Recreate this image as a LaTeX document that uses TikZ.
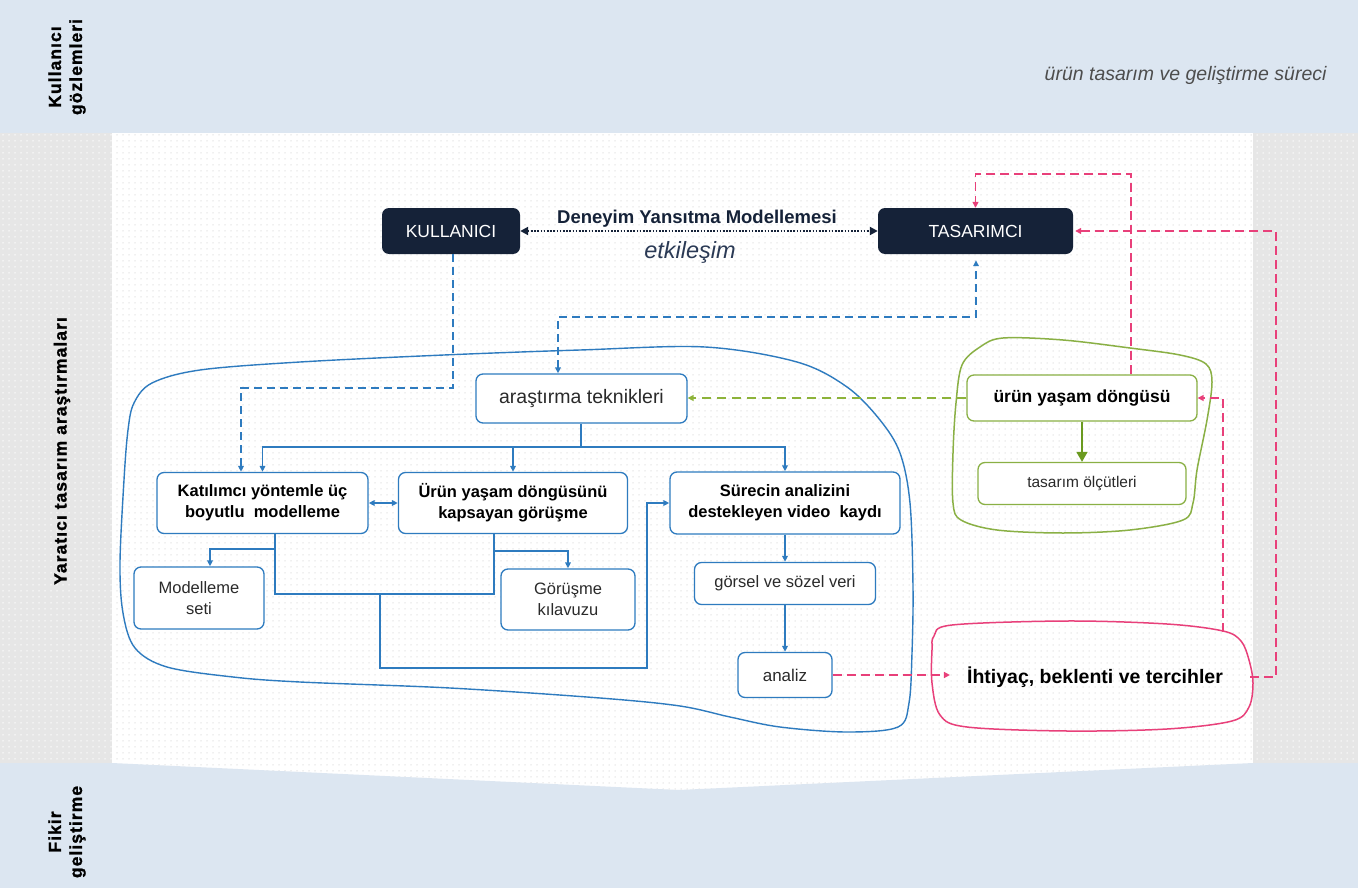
\documentclass[tikz,border=0pt]{standalone}
\usepackage{fontspec}
\setmainfont{Liberation Sans}
\usetikzlibrary{arrows.meta,patterns}
\definecolor{navy}{HTML}{152238}
\definecolor{bblue}{HTML}{2E7BBF}
\definecolor{gborder}{HTML}{8AB045}
\definecolor{garrow}{HTML}{6A9A1F}
\definecolor{gdashc}{HTML}{8DB33A}
\definecolor{pinkc}{HTML}{E8407A}
\definecolor{bandc}{HTML}{DCE6F1}
\definecolor{sidec}{HTML}{E6E6E6}
\definecolor{dotc}{HTML}{E2E2E2}
\definecolor{txt}{HTML}{2A2A2A}
\definecolor{etkc}{HTML}{2B3A55}
\definecolor{procc}{HTML}{4D4D4D}
\pgfdeclarepatternformonly{bgdots}{\pgfqpoint{-1pt}{-1pt}}{\pgfqpoint{7pt}{7pt}}{\pgfqpoint{6pt}{6pt}}{\pgfpathcircle{\pgfqpoint{3pt}{3pt}}{0.75pt}\pgfusepath{fill}}
\tikzset{
  bx/.style={draw=bblue, line width=1.3pt, rounded corners=7pt, fill=white, align=center, inner sep=1pt, text=txt},
  gbx/.style={bx, draw=gborder},
  navybox/.style={fill=navy, rounded corners=7pt, text=white, align=center, inner sep=1pt, font=\fontsize{17.5}{20}\selectfont},
  fb/.style={font=\fontsize{16.5}{21}\selectfont\bfseries, text=black},
  fr/.style={font=\fontsize{16.5}{21}\selectfont},
  sidelabel/.style={rotate=90, align=center, text=black, font=\fontsize{17.5}{21}\selectfont\bfseries\addfontfeature{LetterSpace=6,FakeBold=1.2}},
  bline/.style={draw=bblue, line width=1.5pt},
  barr/.style={bline, -{Triangle[length=6pt,width=5.5pt]}},
  bdarr/.style={bline, {Triangle[length=6pt,width=5.5pt]}-{Triangle[length=6pt,width=5.5pt]}},
  bdash/.style={bline, dash pattern=on 8pt off 5pt},
  pdash/.style={draw=pinkc, line width=1.5pt, dash pattern=on 9pt off 5pt, -{Triangle[length=6pt,width=6pt]}},
  gdash/.style={draw=gdashc, line width=1.6pt, dash pattern=on 9pt off 6pt, -{Triangle[length=6pt,width=6pt]}},
}
\begin{document}
\begin{tikzpicture}[x=1pt,y=-1pt]
\useasboundingbox (0,0) rectangle (1358,888);
% background
\fill[white] (0,0) rectangle (1358,888);
\fill[pattern=bgdots, pattern color=dotc] (0,0) rectangle (1358,888);
\fill[sidec] (0,133) rectangle (112,763);
\fill[pattern=bgdots, pattern color=white] (0,133) rectangle (112,763);
\fill[sidec] (1253,133) rectangle (1358,763);
\fill[pattern=bgdots, pattern color=white] (1253,133) rectangle (1358,763);
\fill[bandc] (0,0) rectangle (1358,133);
\fill[bandc] (0,763) -- (112,763) -- (679,790) -- (1253,763) -- (1358,763) -- (1358,888) -- (0,888) -- cycle;
% side labels
\node[sidelabel] (lab1) at (67,67) {Kullanıcı\\gözlemleri};
\node[sidelabel] (lab2) at (62,451) {Yaratıcı tasarım araştırmaları};
\node[sidelabel] (lab3) at (67,832) {Fikir\\geliştirme};
\node[font=\fontsize{19.5}{24}\selectfont\itshape, text=procc, anchor=east] (proc) at (1330,75) {ürün tasarım ve geliştirme süreci};
% blobs
\draw[bblue, line width=1.4pt] plot[smooth cycle, tension=0.55] coordinates {
 (300,362) (444,355) (580,350) (705,347) (797,362) (847,387) (880,420) (900,453) (910,503) (913,587) (912,653) (909,703) (898,727) (847,732) (780,727) (730,717) (680,706) (600,698) (450,688) (300,682) (233,677) (167,667) (135,648) (123,613) (120,563) (124,480) (128,430) (134,403) (152,383) (200,370)};
\draw[gborder, line width=1.5pt] plot[smooth cycle, tension=0.55] coordinates {
 (962,365) (980,347) (1003,338) (1063,340) (1130,348) (1180,355) (1206,364) (1212,382) (1207,420) (1197,470) (1193,503) (1183,520) (1130,530) (1063,533) (997,530) (961,520) (953,503) (953,453) (956,403)};
\draw[pinkc, line width=1.5pt] plot[smooth cycle, tension=0.55] coordinates {
 (934,636) (952,625) (1067,621) (1167,624) (1223,631) (1241,641) (1249,660) (1253,683) (1249,707) (1232,721) (1167,729) (1067,731) (967,727) (940,715) (932,683) (932,650)};
% nodes
\node[navybox, minimum width=138pt, minimum height=46pt] (kul) at (451,231) {KULLANICI};
\node[navybox, minimum width=195pt, minimum height=46pt] (tas) at (975.5,231) {TASARIMCI};
\node[font=\fontsize{18.5}{22}\selectfont\bfseries, text=navy] (dym) at (697,219) {Deneyim Yansıtma Modellemesi};
\node[font=\fontsize{23.5}{28}\selectfont\itshape, text=etkc] (etk) at (690,252) {etkileşim};
\node[bx, font=\fontsize{19.5}{22}\selectfont, minimum width=211pt, minimum height=49pt] (arast) at (581.5,398.5) {araştırma teknikleri};
\node[bx, fb, minimum width=211pt, minimum height=61pt] (kat) at (262.5,503) {Katılımcı yöntemle üç\\boyutlu\ \ modelleme};
\node[bx, fb, minimum width=229pt, minimum height=61pt] (urun) at (513,503) {Ürün yaşam döngüsünü\\kapsayan görüşme};
\node[bx, fb, minimum width=230pt, minimum height=62pt] (sur) at (785,503) {Sürecin analizini\\destekleyen video\ \ kaydı};
\node[bx, fr, minimum width=130pt, minimum height=62pt] (mod) at (199,598) {Modelleme\\seti};
\node[bx, fr, minimum width=134pt, minimum height=61pt] (gor) at (568,599.5) {Görüşme\\kılavuzu};
\node[bx, fr, minimum width=181pt, minimum height=42pt] (gsv) at (785,583.5) {görsel ve sözel veri};
\node[bx, font=\fontsize{17}{20}\selectfont, minimum width=94pt, minimum height=45pt] (anl) at (785,675) {analiz};
\node[gbx, font=\fontsize{17.5}{20}\selectfont\bfseries, text=black, minimum width=230pt, minimum height=46pt] (uyd) at (1082,398) {ürün yaşam döngüsü};
\node[gbx, font=\fontsize{15.5}{19}\selectfont, minimum width=208pt, minimum height=42pt] (tol) at (1082,483.5) {tasarım ölçütleri};
\node[font=\fontsize{19.5}{22}\selectfont\bfseries, text=black, inner sep=1pt] (iht) at (1095,677) {İhtiyaç, beklenti ve tercihler};
% coordinates
\coordinate (k0) at (453,388);
\coordinate (k1) at (241,388);
\coordinate (a1) at (558,317);
\coordinate (a2) at (976,317);
\coordinate (h) at (581,447);
\coordinate (b1) at (275,594);
\coordinate (b2) at (494,594);
\coordinate (m1) at (275,549);
\coordinate (m2) at (210,549);
\coordinate (g1) at (494,551);
\coordinate (c1) at (380,594);
\coordinate (c2) at (380,668);
\coordinate (c3) at (647,668);
\coordinate (p1) at (1131,174);
\coordinate (ihtR) at (1250,677);
\coordinate (p2) at (1276,677);
\coordinate (ihtT) at (1223,632);
% connectors
\draw[draw=navy, line width=2pt, dash pattern=on 1.6pt off 1.6pt, {Triangle[length=8pt,width=8pt]}-{Triangle[length=8pt,width=8pt]}] (kul.east) -- (tas.west);
\draw[bdash, -{Triangle[length=6pt,width=5.5pt]}] (k0 |- kul.south) -- (k0) -- (k1) -- (k1 |- kat.north);
\draw[bdash, {Triangle[length=6pt,width=5.5pt]}-{Triangle[length=6pt,width=5.5pt]}, shorten >=6pt] (a1 |- arast.north) -- (a1) -- (a2) -- (a2 |- tas.south);
\draw[bline] (arast.south -| h) -- (h);
\draw[barr] (h) -| (kat.north);
\draw[barr] (h) -| (urun.north);
\draw[barr] (h) -| (sur.north);
\draw[bdarr] (kat.east) -- (urun.west);
\draw[bline] (b1 |- kat.south) -- (b1) -- (b2) -- (b2 |- urun.south);
\draw[barr] (m1) -- (m2) -- (m2 |- mod.north);
\draw[barr] (g1) -| (gor.north);
\draw[barr] (c1) -- (c2) -- (c3) |- (sur.west);
\draw[barr] (sur) -- (gsv);
\draw[barr] (gsv) -- (anl);
\draw[pdash, shorten >=16pt] (anl.east) -- (anl.east -| iht.west);
\draw[gdash] (uyd.west) -- (uyd.west -| arast.east);
\draw[draw=garrow, line width=1.6pt, -{Triangle[length=10pt,width=11pt]}] (uyd) -- (tol);
\draw[pdash] (p1 |- uyd.north) -- (p1) -| (tas.north);
\draw[pdash, shorten >=2pt] (ihtR) -- (p2) |- (tas.east);
\draw[pdash] (ihtT) |- (uyd.east);
\end{tikzpicture}
\end{document}
